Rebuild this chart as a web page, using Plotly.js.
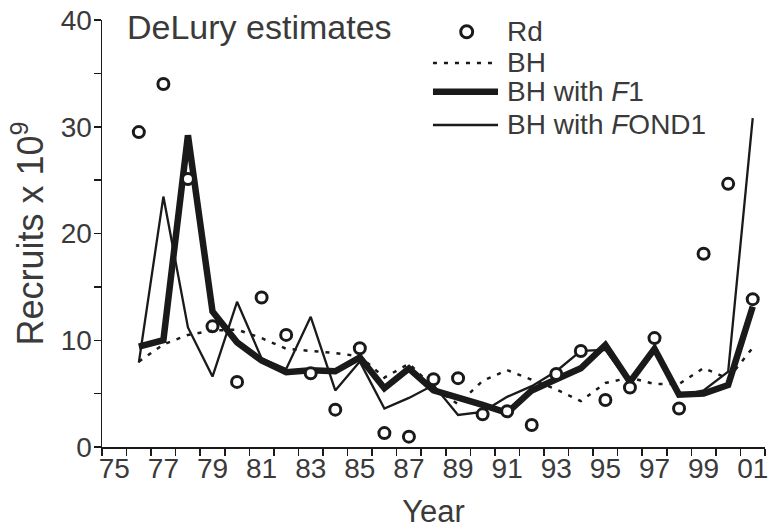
<!DOCTYPE html>
<html><head><meta charset="utf-8">
<script src="https://cdn.plot.ly/plotly-3.0.1.min.js"></script>
<style>html,body{margin:0;padding:0;background:#fff}#chart{width:769px;height:529px}</style>
</head><body><div id="chart"></div>
<script>
const years = [1976,1977,1978,1979,1980,1981,1982,1983,1984,1985,1986,1987,1988,1989,1990,1991,1992,1993,1994,1995,1996,1997,1998,1999,2000,2001];
const rd      = [29.5,34.0,25.1,11.3,6.1,14.0,10.5,6.9,3.5,9.25,1.3,0.97,6.34,6.45,3.06,3.35,2.06,6.84,9.0,4.4,5.58,10.2,3.6,18.1,24.65,13.85];
const bh      = [8.0,9.6,10.5,10.9,11.0,10.2,9.2,9.0,8.8,8.5,6.5,7.8,5.6,4.0,6.2,7.2,6.3,5.4,4.3,6.0,6.5,5.9,5.9,7.4,6.4,9.3];
const bhF1    = [9.4,10.0,29.2,12.7,9.8,8.1,7.0,7.2,7.1,8.4,5.5,7.35,5.3,4.7,3.95,3.2,5.3,6.35,7.37,9.56,6.1,9.2,4.9,5.0,5.8,13.15];
const bhFOND1 = [7.9,23.46,11.2,6.6,13.6,8.3,7.3,12.2,5.3,8.0,3.6,4.6,5.8,3.0,3.3,4.7,5.7,7.1,9.0,9.1,5.9,9.2,4.8,5.3,7.06,30.8];
const xLabelYears = [1975,1977,1979,1981,1983,1985,1987,1989,1991,1993,1995,1997,1999,2001];
const xLabelTexts = ['75','77','79','81','83','85','87','89','91','93','95','97','99','01'];
const legendNames = ['Rd','BH','BH with <i>F</i>1','BH with <i>F</i>OND1'];

const FONT = 'Liberation Sans, Arial, Helvetica, sans-serif';
const TXT = '#3a3a3a';
const INK = '#1a1a1a';

const styleBH    = {color: INK, width: 2.5, dash: '4px,7px'};
const styleF1    = {color: INK, width: 6.5};
const styleFOND1 = {color: INK, width: 2.3};

const traces = [
  {x: years, y: bh, mode: 'lines', name: 'BH', xaxis: 'x2', line: styleBH},
  {x: years, y: bhF1, mode: 'lines', name: 'BH with F1', line: styleF1},
  {x: years, y: bhFOND1, mode: 'lines', name: 'BH with FOND1', line: styleFOND1},
  {x: years, y: rd, mode: 'markers', name: 'Rd',
   marker: {symbol: 'circle', size: 11, color: '#ffffff', line: {color: INK, width: 3}}}
];

// hand-built legend (paper coordinates) so rows sit as tightly as in the figure
const legRowY = [0.9726, 0.8993, 0.8321, 0.7541];
const legTextX = 0.6078;
const legLineX0 = 0.4992;
const annotations = [
  {text: 'DeLury estimates', xref: 'paper', yref: 'paper', x: 0.035, y: 0.984,
   xanchor: 'left', yanchor: 'middle', showarrow: false,
   font: {family: FONT, size: 34, color: TXT}}
];
legendNames.forEach((n, i) => annotations.push({
  text: n, xref: 'paper', yref: 'paper', x: legTextX, y: legRowY[i],
  xanchor: 'left', yanchor: 'middle', showarrow: false,
  font: {family: FONT, size: 28, color: TXT}}));
const shapes = [
  {type: 'circle', xref: 'paper', yref: 'paper', x0: 0.5410, x1: 0.5591,
   y0: legRowY[0] - 0.0141, y1: legRowY[0] + 0.0141,
   line: {color: INK, width: 3}, fillcolor: '#ffffff'},
  {type: 'line', xref: 'paper', yref: 'paper', x0: legLineX0, x1: 0.5882, y0: legRowY[1], y1: legRowY[1], line: styleBH},
  {type: 'line', xref: 'paper', yref: 'paper', x0: legLineX0, x1: 0.5973, y0: legRowY[2], y1: legRowY[2], line: styleF1},
  {type: 'line', xref: 'paper', yref: 'paper', x0: legLineX0, x1: 0.5973, y0: legRowY[3], y1: legRowY[3], line: styleFOND1}
];

const layout = {
  width: 769, height: 529,
  margin: {l: 102, r: 4, t: 20, b: 82},
  paper_bgcolor: '#fff', plot_bgcolor: '#fff',
  font: {family: FONT, color: TXT, size: 28},
  showlegend: false,
  xaxis: {range: [1974.5, 2001.5], tickmode: 'linear', tick0: 1974.5, dtick: 1,
          ticks: 'outside', ticklen: 7, tickwidth: 1.5, tickcolor: INK, showticklabels: false,
          showline: true, linecolor: INK, linewidth: 1.5, showgrid: false, zeroline: false},
  xaxis2: {overlaying: 'x', anchor: 'y', side: 'bottom', range: [1974.5, 2001.5],
           tickmode: 'array', tickvals: xLabelYears, ticktext: xLabelTexts, ticks: '',
           ticklabelstandoff: 2,
           showline: false, showgrid: false, zeroline: false,
           tickfont: {family: FONT, size: 28, color: TXT},
           title: {text: 'Year', font: {family: FONT, size: 31, color: TXT}, standoff: 20}},
  yaxis: {range: [0, 40], tickmode: 'linear', tick0: 0, dtick: 10,
          ticks: 'outside', ticklen: 7, tickwidth: 1.5, tickcolor: INK, ticklabelstandoff: -4,
          minor: {dtick: 5, ticks: 'outside', ticklen: 7, tickwidth: 1.5, tickcolor: INK, showgrid: false},
          showline: true, linecolor: INK, linewidth: 1.5, showgrid: false, zeroline: false,
          tickfont: {family: FONT, size: 28, color: TXT},
          title: {text: 'Recruits x 10<sup>9</sup>', font: {family: FONT, size: 36, color: TXT}, standoff: 6}},
  annotations: annotations,
  shapes: shapes
};

Plotly.newPlot('chart', traces, layout, {displayModeBar: false, staticPlot: true});
</script>
</body></html>
